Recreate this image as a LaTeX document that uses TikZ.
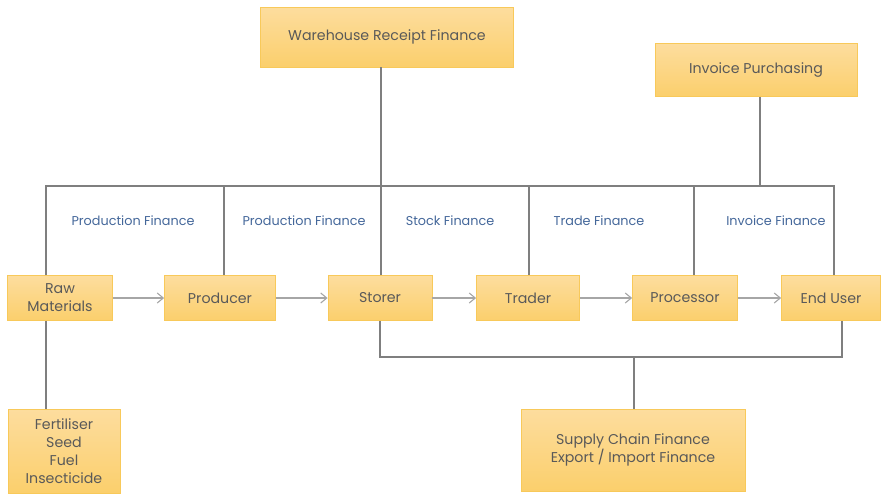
\documentclass[tikz,border=0pt]{standalone}
\usepackage{fontspec}
\setmainfont{Poppins}
\usetikzlibrary{arrows.meta,positioning}
\definecolor{boxtop}{HTML}{FDDD9E}
\definecolor{boxbot}{HTML}{FBCF6C}
\definecolor{boxedge}{HTML}{F8C95A}
\definecolor{ink}{HTML}{595959}
\definecolor{wire}{HTML}{7F7F7F}
\definecolor{flow}{HTML}{A6A6A6}
\definecolor{steel}{HTML}{44679A}

\begin{document}
\begin{tikzpicture}[x=1pt,y=-1pt,>={Straight Barb[length=6pt,width=10pt]},
  box/.style={draw=boxedge,line width=0.8pt,top color=boxtop,bottom color=boxbot,
    text=ink,align=center,inner sep=0pt,font=\fontsize{14.2}{18}\selectfont},
  wires/.style={draw=wire,line width=1.6pt},
  flowline/.style={->,draw=flow,line width=1.1pt},
  fin/.style={text=steel,font=\fontsize{12.8}{15}\selectfont}]
  \useasboundingbox (0,0) rectangle (881,493);

  % Chain of actors
  \node[box,minimum width=105pt,minimum height=45pt] (raw) at (60,298) {Raw\\Materials};
  \node[box,minimum width=111pt,minimum height=45pt] (prod) at (220,298) {Producer};
  \node[box,minimum width=104pt,minimum height=45pt] (store) at (380,298) {Storer};
  \node[box,minimum width=103pt,minimum height=45pt] (trade) at (528,298) {Trader};
  \node[box,minimum width=105pt,minimum height=45pt] (proc) at (685,298) {Processor};
  \node[box,minimum width=99pt,minimum height=45pt] (user) at (831,298) {End User};

  \draw[flowline] (raw) -- (prod);
  \draw[flowline] (prod) -- (store);
  \draw[flowline] (store) -- (trade);
  \draw[flowline] (trade) -- (proc);
  \draw[flowline] (proc) -- (user);

  % Finance products
  \node[box,minimum width=253pt,minimum height=60pt] (whr) at (387,37)
    {Warehouse Receipt Finance};
  \node[box,minimum width=202pt,minimum height=53pt] (inv) at (756,70)
    {Invoice Purchasing};
  \node[box,minimum width=112pt,minimum height=84pt] (inputs) at (64,451)
    {Fertiliser\\Seed\\Fuel\\Insecticide};
  \node[box,minimum width=224pt,minimum height=82pt] (scf) at (633,450)
    {Supply Chain Finance\\Export / Import Finance};

  % Upper bus
  \coordinate (busL) at (46,186);
  \coordinate (busR) at (834,186);
  \coordinate (tWhr) at (381,186);
  \coordinate (tInv) at (760,186);
  \draw[wires] (busL |- raw.north) -- (busL) -- (busR) -- (busR |- user.north);
  \draw[wires] (tWhr |- whr.south) -- (tWhr |- store.north);
  \draw[wires] (tInv |- inv.south) -- (tInv);
  \foreach \n/\x in {prod/224,trade/529,proc/694}{
    \coordinate (tap) at (\x,186);
    \draw[wires] (tap) -- (tap |- \n.north);
  }
  \draw[wires] (busL |- raw.south) -- (busL |- inputs.north);

  % Lower bus
  \coordinate (lowL) at (380,357);
  \coordinate (lowR) at (842,357);
  \coordinate (tScf) at (634,357);
  \draw[wires] (store.south) -- (lowL) -- (lowR) -- (lowR |- user.south);
  \draw[wires] (tScf) -- (tScf |- scf.north);

  \node[fin] (f1) at (133,221) {Production Finance};
  \node[fin] (f2) at (304,221) {Production Finance};
  \node[fin] (f3) at (450,221) {Stock Finance};
  \node[fin] (f4) at (599,221) {Trade Finance};
  \node[fin] (f5) at (776,221) {Invoice Finance};
\end{tikzpicture}
\end{document}
